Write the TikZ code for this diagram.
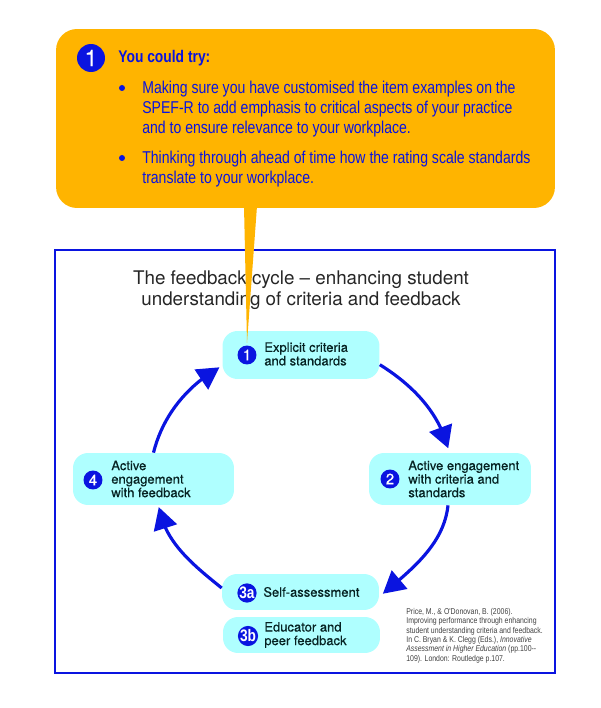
\documentclass[tikz,border=0pt]{standalone}
\usepackage{fontspec}
\usepackage{xcolor}
\setmainfont{Liberation Sans}
\newfontfamily\narrowfont[FakeStretch=0.82]{Liberation Sans}
\newfontfamily\mediumfont[FakeBold=0.35]{TeX Gyre Heros}
\newfontfamily\titlefont{TeX Gyre Heros}
\usetikzlibrary{arrows.meta, bending}
\definecolor{calloutorange}{HTML}{FFB400}
\definecolor{boxcyan}{HTML}{AFFFFF}
\definecolor{cycleblue}{HTML}{0A14E0}
\definecolor{labelink}{HTML}{062222}
\tikzset{
  cyclebox/.style={fill=boxcyan, rounded corners=0.3cm, inner sep=0},
  badge/.style={circle, fill=cycleblue, text=white, inner sep=0, minimum size=0.38cm, font=\mediumfont\fontsize{8.5}{8.5}\selectfont},
  boxlabel/.style={anchor=west, align=left, inner sep=0, text=labelink, font=\mediumfont\fontsize{7.4}{7.7}\selectfont},
  tiptext/.style={anchor=west, align=left, inner sep=0, text=cycleblue, font=\narrowfont\fontsize{9.75}{11.4}\selectfont},
  tipbullet/.style={circle, fill=cycleblue, inner sep=0, minimum size=0.12cm},
  cyclearrow/.style={draw=cycleblue, line width=1.8pt, -{Triangle[length=12.5pt,width=13.5pt,flex]}},
}
\begin{document}
\begin{tikzpicture}[x=0.02cm,y=0.02cm]
\useasboundingbox (0,0) rectangle (600,708);

% frame and title
\draw[cycleblue, line width=0.9pt] (55,458) rectangle (555,35);
\node[align=center, inner sep=0, text=black!85, font=\titlefont\fontsize{10.7}{12.2}\selectfont] (title) at (301,418)
  {The feedback cycle – enhancing student\\understanding of criteria and feedback};

% cycle boxes
\node[cyclebox, minimum width=3.14cm, minimum height=0.96cm] (box1) at (301,353) {};
\node[cyclebox, minimum width=3.24cm, minimum height=1.04cm] (box2) at (450,229) {};
\node[cyclebox, minimum width=3.22cm, minimum height=1.04cm] (box4) at (153.5,229) {};
\node[cyclebox, minimum width=3.14cm, minimum height=0.72cm] (box3a) at (300.5,116) {};
\node[cyclebox, minimum width=3.14cm, minimum height=0.72cm] (box3b) at (301.5,73) {};

\node[boxlabel] (label1) at (264,354) {Explicit criteria\\and standards};
\node[boxlabel] (label2) at (408,229) {Active engagement\\with criteria and\\standards};
\node[boxlabel] (label3a) at (263,116) {Self-assessment};
\node[boxlabel] (label3b) at (264,73) {Educator and\\peer feedback};
\node[boxlabel] (label4) at (111,229) {Active\\engagement\\with feedback};

% arrows
\draw[cyclearrow] (box1.-7) to[out=-32,in=105,looseness=0.9] ([xshift=-1pt,yshift=2.5pt]box2.north);
\draw[cyclearrow] (box2.-90) ++(-2,0) to[out=-96,in=40,looseness=0.9] ([xshift=2pt,yshift=-1pt]box3a.east);
\draw[cyclearrow] (box3a.west) ++(0,4) to[out=141,in=-80,looseness=0.9] ([xshift=3pt,yshift=-1pt]box4.south);
\draw[cyclearrow] (box4.north) to[out=76,in=210,looseness=0.9] ([xshift=-1.5pt,yshift=-7pt]box1.west);

% callout
\node[fill=calloutorange, rounded corners=0.42cm, minimum width=9.98cm, minimum height=3.58cm, inner sep=0] (callout) at (305.5,589.5) {};
\coordinate (callouttip) at (247,365);
\fill[calloutorange] (244,502) -- (257,502) -- (callouttip) -- cycle;

\node[badge, minimum size=0.56cm, font=\mediumfont\fontsize{13}{13}\selectfont] (badgetry) at (91,650) {1};
\node[tiptext, font=\narrowfont\bfseries\fontsize{9.6}{11.4}\selectfont] (tryhead) at (118,650) {You could try:};
\node[tipbullet] (bullet1) at (122,620) {};
\node[tipbullet] (bullet2) at (122,550) {};
\node[tiptext] (tip1) at (142,599) {Making sure you have customised the item examples on the\\SPEF-R to add emphasis to critical aspects of your practice\\and to ensure relevance to your workplace.};
\node[tiptext] (tip2) at (142,539) {Thinking through ahead of time how the rating scale standards\\translate to your workplace.};

% badges
\node[badge] (badge1) at (247,353) {1};
\node[badge] (badge2) at (390,229) {2};
\node[badge, font=\narrowfont\bfseries\fontsize{9.5}{9.5}\selectfont] (badge3a) at (247,115) {3a};
\node[badge, font=\narrowfont\bfseries\fontsize{9.5}{9.5}\selectfont] (badge3b) at (248,72) {3b};
\node[badge] (badge4) at (93,228) {4};

% reference
\node[anchor=north west, align=left, inner sep=0, text=black!75, font=\narrowfont\fontsize{4.8}{5.3}\selectfont] (source) at (406,100)
  {Price, M., \& O'Donovan, B. (2006).\\Improving performance through enhancing\\student understanding criteria and feedback.\\In C. Bryan \& K. Clegg (Eds.), \textit{Innovative}\\\textit{Assessment in Higher Education} (pp.100--\\109). London: Routledge p.107.};
\end{tikzpicture}
\end{document}
